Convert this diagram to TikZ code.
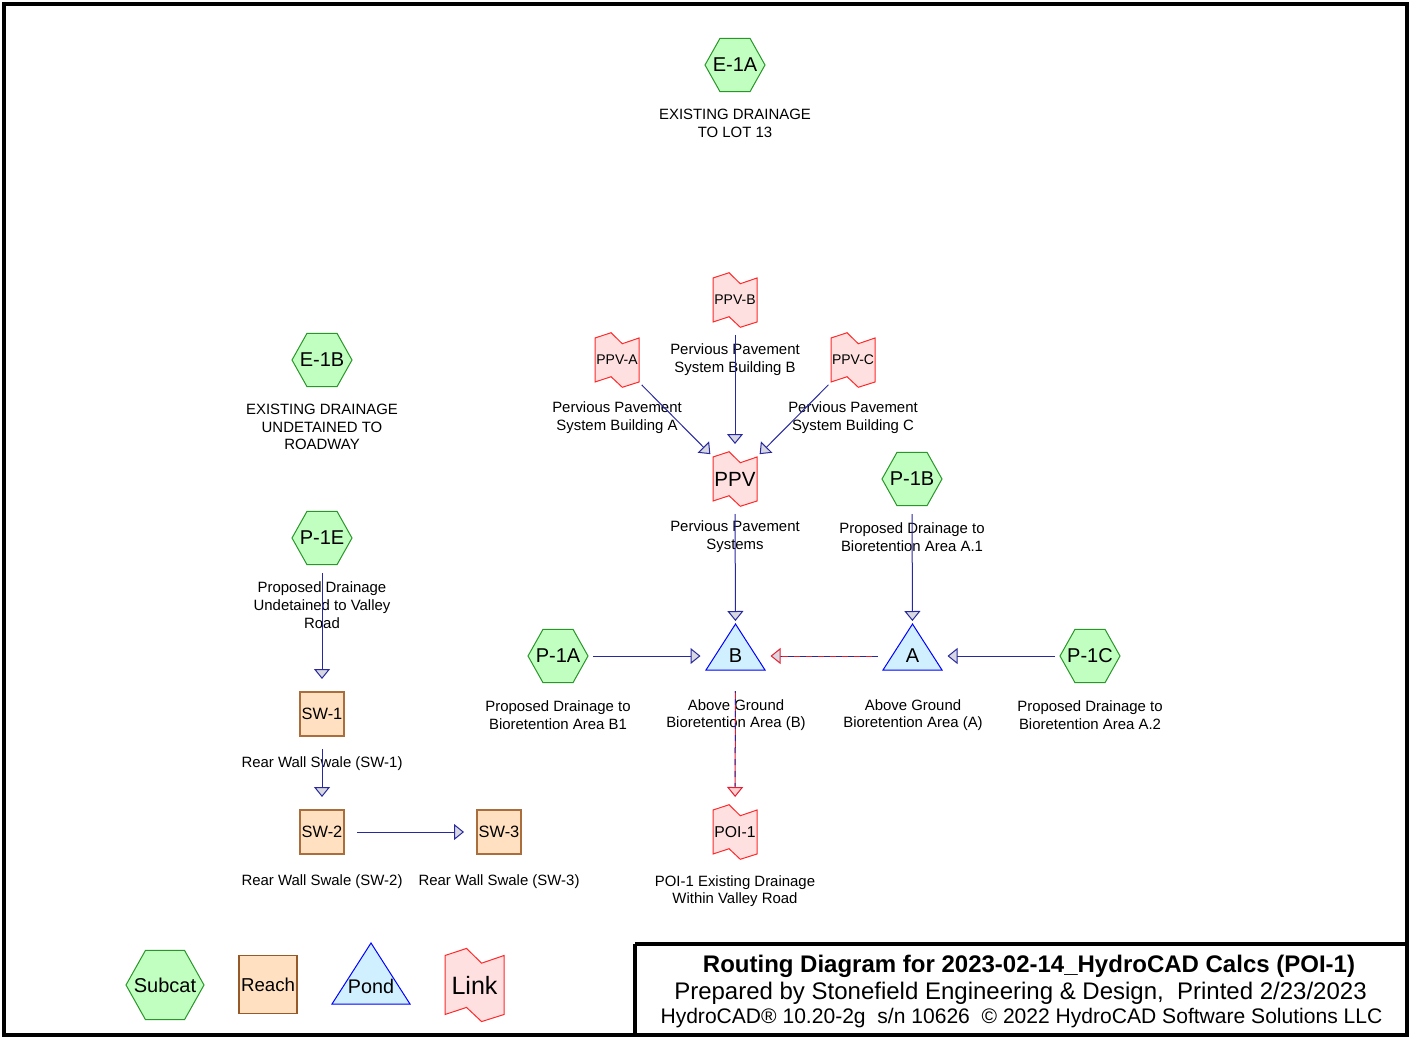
\documentclass[tikz,border=0pt]{standalone}
\usepackage{fontspec}
\setmainfont{Liberation Sans}
\usetikzlibrary{arrows.meta,shapes.geometric,calc}
\definecolor{navyc}{RGB}{40,40,160}
\definecolor{hexfill}{RGB}{192,255,192}
\definecolor{hexdraw}{RGB}{40,150,40}
\definecolor{reachfill}{RGB}{255,224,192}
\definecolor{reachdraw}{RGB}{170,110,60}
\definecolor{pondfill}{RGB}{208,240,255}
\definecolor{ponddraw}{RGB}{0,0,255}
\definecolor{linkfill}{RGB}{255,224,224}
\definecolor{linkdraw}{RGB}{255,40,40}
\definecolor{tipfill}{RGB}{216,216,224}
\definecolor{tippink}{RGB}{255,208,208}
\definecolor{redc}{RGB}{230,30,50}
\newcommand\fsz[1]{\fontsize{#1}{#1}\selectfont}
\newcommand\linknode[6]{%
  \filldraw[linkst, shift={(#2,#3)}, scale=#4] (-0.5,-0.5) -- (-0.135,-0.62) -- (0.12,-0.37) -- (0.5,-0.5) -- (0.5,0.5) -- (0.12,0.62) -- (-0.135,0.38) -- (-0.5,0.5) -- cycle;
  \node[txtnode, font=\fsz{#5}] (#1) at (#2,#3) {#6};}
\newcommand\hexnode[6]{%
  \filldraw[hexst, shift={(#2,#3)}, scale=#4] (-0.5,0) -- (-0.25,-0.445) -- (0.25,-0.445) -- (0.5,0) -- (0.25,0.445) -- (-0.25,0.445) -- cycle;
  \node[txtnode, font=\fsz{#5}] (#1) at (#2,#3) {#6};}
\newcommand\pondnode[8]{%
  \filldraw[pondst] ({#2-#4},{#3+#6}) -- ({#2},{#3-#5}) -- ({#2+#4},{#3+#6}) -- cycle;
  \node[txtnode, font=\fsz{#7}] (#1) at (#2,#3) {#8};}
\tikzset{
 hexst/.style={fill=hexfill, draw=hexdraw, line width=0.75pt},
 reachst/.style={rectangle, inner sep=0pt, fill=reachfill, draw=reachdraw, line width=1.1pt},
 txtnode/.style={inner sep=0pt},
 linkst/.style={fill=linkfill, draw=linkdraw, line width=0.75pt},
 pondst/.style={fill=pondfill, draw=ponddraw, line width=0.75pt},
 lbl/.style={align=center, inner sep=0pt, font=\fontsize{11.2pt}{13.3pt}\selectfont},
 flow/.style={draw=navyc, line width=0.75pt, -{Triangle[length=7.5pt,width=12pt,fill=tipfill]}, shorten <=26.25pt, shorten >=26.25pt},
 flowred/.style={draw=redc, line width=0.75pt, -{Triangle[length=7.5pt,width=12pt,fill=#1]}, shorten <=26.25pt, shorten >=26.25pt},
 dashover/.style={draw=navyc, line width=0.75pt, dash pattern=on 4.5pt off 4.5pt, shorten <=26.25pt, shorten >=34pt},
}
\begin{document}
\begin{tikzpicture}[x=0.75pt, y=-0.75pt]
\useasboundingbox (0,0) rectangle (1409,1037);
% frame
\draw[line width=3pt] (4,4.5) rectangle (1406.5,1035);
\draw[line width=3pt] (635,944) -- (635,1035);
\draw[line width=3pt] (635,944) -- (1406.5,944);

% subcatchments
\hexnode{e1a}{735}{65}{60}{15pt}{E-1A}
\node[lbl] (e1al) at (735,123) {EXISTING DRAINAGE\\TO LOT 13};
\hexnode{e1b}{322}{360}{60}{15pt}{E-1B}
\node[lbl] (e1bl) at (322,427) {EXISTING DRAINAGE\\UNDETAINED TO\\ROADWAY};
\hexnode{p1e}{322}{538}{60}{15pt}{P-1E}
\node[lbl] (p1el) at (322,605) {Proposed Drainage\\Undetained to Valley\\Road};
\hexnode{p1b}{912}{479}{60}{15pt}{P-1B}
\node[lbl] (p1bl) at (912,537) {Proposed Drainage to\\Bioretention Area A.1};
\hexnode{p1a}{558}{656}{60}{15pt}{P-1A}
\node[lbl] (p1al) at (558,715) {Proposed Drainage to\\Bioretention Area B1};
\hexnode{p1c}{1090}{656}{60}{15pt}{P-1C}
\node[lbl] (p1cl) at (1090,715) {Proposed Drainage to\\Bioretention Area A.2};

% reaches
\node[reachst, minimum size=33pt, font=\fsz{12.3pt}] (sw1) at (322,714) {SW-1};
\node[lbl] (sw1l) at (322,764) {Rear Wall Swale (SW-1)};
\node[reachst, minimum size=33pt, font=\fsz{12.3pt}] (sw2) at (322,832) {SW-2};
\node[lbl] (sw2l) at (322,882) {Rear Wall Swale (SW-2)};
\node[reachst, minimum size=33pt, font=\fsz{12.3pt}] (sw3) at (499,832) {SW-3};
\node[lbl] (sw3l) at (499,882) {Rear Wall Swale (SW-3)};

% links
\linknode{ppvb}{735}{300}{44}{10.5pt}{PPV-B}
\node[lbl] (ppvbl) at (735,360) {Pervious Pavement\\System Building B};
\linknode{ppva}{617}{360}{44}{10.5pt}{PPV-A}
\node[lbl] (ppval) at (617,418) {Pervious Pavement\\System Building A};
\linknode{ppvc}{853}{360}{44}{10.5pt}{PPV-C}
\node[lbl] (ppvcl) at (853,418) {Pervious Pavement\\System Building C};
\linknode{ppv}{735}{479}{44}{15.4pt}{PPV}
\node[lbl] (ppvl) at (735,537) {Pervious Pavement\\Systems};
\linknode{poi}{735}{832}{44}{11.8pt}{POI-1}
\node[lbl] (poil) at (735,891) {POI-1 Existing Drainage\\Within Valley Road};

% ponds
\pondnode{b}{735.5}{656}{29.5}{32}{14}{15pt}{B}
\node[lbl] (bl) at (736,715) {Above Ground\\Bioretention Area (B)};
\pondnode{a}{912.5}{656}{29.5}{32}{14}{15pt}{A}
\node[lbl] (al) at (913,715) {Above Ground\\Bioretention Area (A)};

% connectors
\draw[flow] (p1e.center) -- (sw1.center);
\draw[flow] (sw1.center) -- (sw2.center);
\draw[flow] (sw2.center) -- (sw3.center);
\draw[flow] (ppvb.center) -- (ppv.center);
\draw[flow] (ppva.center) -- (ppv.center);
\draw[flow] (ppvc.center) -- (ppv.center);
\draw[flow] (ppv.center) -- (b.center);
\draw[flow] (p1b.center) -- (a.center);
\draw[flow] (p1a.center) -- (b.center);
\draw[flow] (p1c.center) -- (a.center);
\draw[flowred=tipfill] (a.center) -- (b.center);
\draw[dashover] (a.center) -- (b.center);
\draw[flowred=tippink] (b.center) -- (poi.center);
\draw[dashover, dash phase=3pt] (b.center) -- (poi.center);

% legend
\hexnode{lgsub}{165}{985}{78}{15pt}{Subcat}
\node[reachst, draw={rgb,255:red,150;green,90;blue,40}, minimum size=43.5pt, font=\fsz{14pt}] (lgreach) at (268,984.5) {Reach};
\pondnode{lgpond}{371}{986}{39}{43}{18}{14.8pt}{Pond}
\linknode{lglink}{474.5}{985}{59}{18.8pt}{Link}

% title block
\node[txtnode, font=\bfseries\fsz{18pt}] (t1) at (1029,966) {Routing Diagram for 2023-02-14\_HydroCAD Calcs (POI-1)};
\node[txtnode, font=\fsz{18pt}] (t2) at (1020.5,993) {Prepared by Stonefield Engineering \& Design,\ \ Printed 2/23/2023};
\node[txtnode, font=\fsz{15.8pt}] (t3) at (1021.5,1018) {HydroCAD® 10.20-2g\ \ s/n 10626\ \ © 2022 HydroCAD Software Solutions LLC};
\end{tikzpicture}
\end{document}
